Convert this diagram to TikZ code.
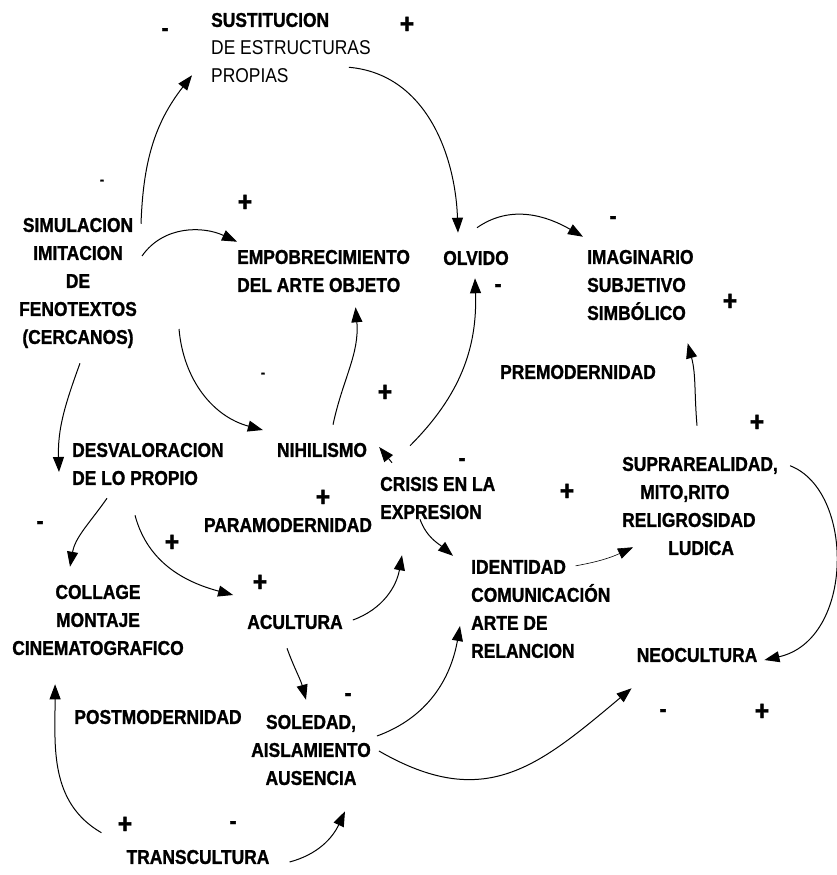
\documentclass[tikz,border=0pt]{standalone}
\usepackage{fontspec}
\setmainfont{Liberation Sans}[FakeStretch=0.87, BoldFeatures={FakeBold=1.2}]
\usepackage{tikz}
\usetikzlibrary{arrows.meta}

\begin{document}
\begin{tikzpicture}
[
x=1pt, y=1pt,
>={Triangle[length=15pt,width=11pt]},
texto-a/.style={font=\bfseries\fontsize{20}{28}\selectfont, inner sep=0pt, align=center},
texto-b/.style={texto-a, align=left, anchor=west},
signo-a/.style={font=\bfseries\fontsize{28}{28}\selectfont, inner sep=0pt},
signo-b/.style={font=\bfseries\fontsize{24}{24}\selectfont, inner sep=0pt},
signo-c/.style={font=\bfseries\fontsize{14}{14}\selectfont, inner sep=0pt},
flecha-a/.style={->, line width=1pt},
flecha-b/.style={->, line width=0.6pt}
]

\useasboundingbox (0,0) rectangle (837,-875);

% conceptos
\node (sustitucion)     [texto-b, font=\fontsize{20}{28}\selectfont] at (211,-48)  {{\bfseries SUSTITUCION}\\DE ESTRUCTURAS\\PROPIAS};
\node (simulacion)      [texto-a] at (78,-283)   {SIMULACION\\IMITACION\\DE\\FENOTEXTOS\\(CERCANOS)};
\node (empobrecimiento) [texto-b] at (237,-271)  {EMPOBRECIMIENTO\\DEL ARTE OBJETO};
\node (olvido)          [texto-a] at (476,-258)  {OLVIDO};
\node (imaginario)      [texto-b] at (587,-285)  {IMAGINARIO\\SUBJETIVO\\SIMBÓLICO};
\node (premodernidad)   [texto-a] at (578,-372)  {PREMODERNIDAD};
\node (desvaloracion)   [texto-b] at (72,-464)   {DESVALORACION\\DE LO PROPIO};
\node (nihilismo)       [texto-a] at (322,-450)  {NIHILISMO};
\node (suprarealidad)   [texto-b] at (622,-506)  {SUPRAREALIDAD,\\\hspace*{18pt}MITO,RITO\\RELIGROSIDAD\\\hspace*{46pt}LUDICA};
\node (crisis)          [texto-b] at (380,-498)  {CRISIS EN LA\\EXPRESION};
\node (paramodernidad)  [texto-a] at (288,-525)  {PARAMODERNIDAD};
\node (collage)         [texto-a] at (98,-620)   {COLLAGE\\MONTAJE\\CINEMATOGRAFICO};
\node (acultura)        [texto-a] at (295,-622)  {ACULTURA};
\node (identidad)       [texto-b] at (471,-609)  {IDENTIDAD\\COMUNICACIÓN\\ARTE DE\\RELANCION};
\node (neocultura)      [texto-a] at (697,-655)  {NEOCULTURA};
\node (postmodernidad)  [texto-a] at (158,-717)  {POSTMODERNIDAD};
\node (soledad)         [texto-a] at (311,-750)  {SOLEDAD,\\AISLAMIENTO\\AUSENCIA};
\node (transcultura)    [texto-a] at (198,-857)  {TRANSCULTURA};

% signos
\node (signo-1)  [signo-b] at (165,-32)  {-};
\node (signo-2)  [signo-a] at (407,-25)  {+};
\node (signo-3)  [signo-c] at (102,-182) {-};
\node (signo-4)  [signo-a] at (245,-203) {+};
\node (signo-5)  [signo-b] at (613,-220) {-};
\node (signo-6)  [signo-b] at (498,-288) {-};
\node (signo-7)  [signo-a] at (730,-302) {+};
\node (signo-8)  [signo-c] at (263,-375) {-};
\node (signo-9)  [signo-a] at (385,-393) {+};
\node (signo-10) [signo-a] at (757,-423) {+};
\node (signo-11) [signo-b] at (462,-462) {-};
\node (signo-12) [signo-a] at (567,-492) {+};
\node (signo-13) [signo-a] at (323,-498) {+};
\node (signo-14) [signo-b] at (40,-525)  {-};
\node (signo-15) [signo-a] at (172,-543) {+};
\node (signo-16) [signo-a] at (260,-583) {+};
\node (signo-17) [signo-b] at (348,-697) {-};
\node (signo-18) [signo-b] at (663,-713) {-};
\node (signo-19) [signo-a] at (762,-712) {+};
\node (signo-20) [signo-a] at (125,-825) {+};
\node (signo-21) [signo-b] at (233,-825) {-};

% flechas
\draw [flecha-a] ([shift={(4,-6)}]simulacion.north east) to[out=88,in=232] ([shift={(-19,8)}]sustitucion.south west);
\draw [flecha-a] ([shift={(-22,16)}]sustitucion.south east) to[out=-5,in=92] ([shift={(-18,18)}]olvido.north);
\draw [flecha-a] ([shift={(5,27)}]simulacion.east) to[out=55,in=155] ([shift={(0,8)}]empobrecimiento.north west);
\draw [flecha-a] ([shift={(1,23)}]olvido.north) to[out=35,in=150] ([shift={(-4,13)}]imaginario.north west);
\draw [flecha-a] ([shift={(42,-46)}]simulacion.east) to[out=-85,in=165] ([shift={(-14,20)}]nihilismo.west);
\draw [flecha-a] ([shift={(2,-15)}]simulacion.south) to[out=-110,in=92] ([shift={(-13,-8)}]desvaloracion.west);
\draw [flecha-a] ([shift={(11,18)}]nihilismo.north) to[out=78,in=-85] ([shift={(32,-15)}]empobrecimiento.south);
\draw [flecha-a] ([shift={(12,14)}]crisis.north west) -- ([shift={(12,3)}]nihilismo.east);
\draw [flecha-a] ([shift={(30,31)}]crisis.north west) to[out=45,in=-88] ([shift={(-1,-13)}]olvido.south);
\draw [flecha-a] ([shift={(-3,31)}]suprarealidad.north) to[out=95,in=-75] ([shift={(-6,-23)}]imaginario.south east);
\draw [flecha-a] ([shift={(12,-9)}]suprarealidad.north east) .. controls +(65,-25) and +(90,20) .. ([shift={(7,-5)}]neocultura.east);
\draw [flecha-a] ([shift={(40,0)}]crisis.south west) to[out=-70,in=140] ([shift={(-18,4)}]identidad.north west);
\draw [flecha-b] ([shift={(-35,-6)}]identidad.north east) to[out=10,in=205] ([shift={(11,8)}]suprarealidad.south west);
\draw [flecha-a] ([shift={(35,-13)}]desvaloracion.south west) to[out=-125,in=80] ([shift={(-28,18)}]collage.north);
\draw [flecha-a] ([shift={(63,-30)}]desvaloracion.south west) to[out=-75,in=165] ([shift={(-14,27)}]acultura.west);
\draw [flecha-a] ([shift={(10,2)}]acultura.east) to[out=20,in=-100] ([shift={(22,-36)}]crisis.south west);
\draw [flecha-a] ([shift={(-8,-19)}]acultura.south) to[out=-70,in=105] ([shift={(-5,15)}]soledad.north);
\draw [flecha-a] ([shift={(6,14)}]soledad.east) to[out=20,in=-100] ([shift={(-11,-17)}]identidad.west);
\draw [flecha-a] ([shift={(8,-1)}]soledad.east) to[out=-30,in=220,looseness=1.2] ([shift={(-5,-26)}]neocultura.south west);
\draw [flecha-a] ([shift={(-25,17)}]transcultura.north west) to[out=150,in=-90] ([shift={(43,-29)}]collage.south west);
\draw [flecha-a] ([shift={(20,-5)}]transcultura.east) to[out=15,in=-115] ([shift={(34,-26)}]soledad.south);

\end{tikzpicture}
\end{document}
